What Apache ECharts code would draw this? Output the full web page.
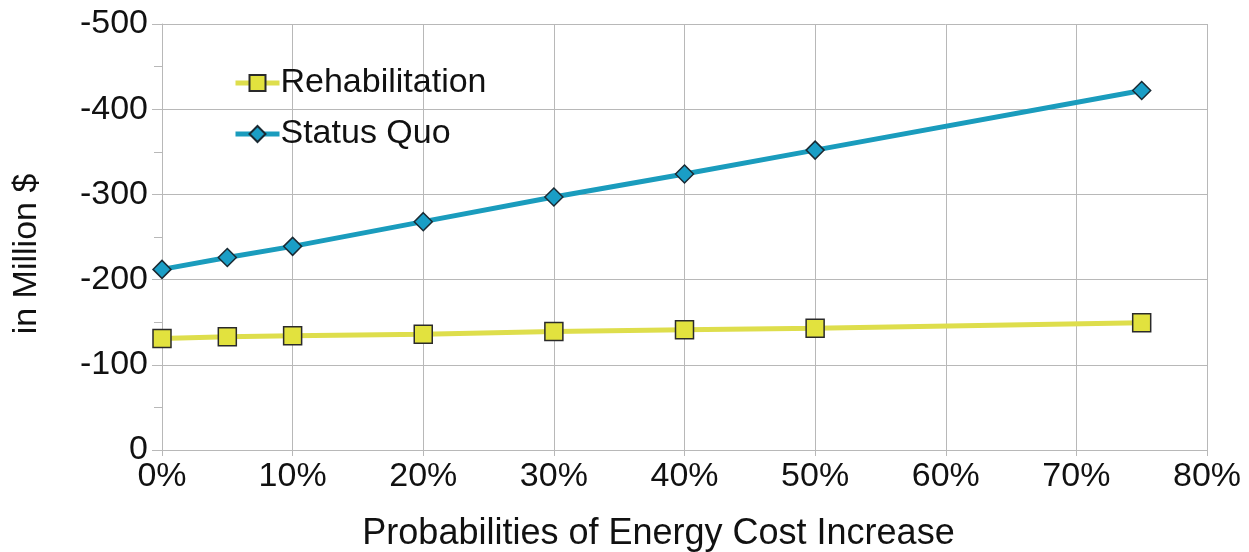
<!DOCTYPE html>
<html>
<head>
<meta charset="utf-8">
<script src="https://cdn.jsdelivr.net/npm/echarts@6/dist/echarts.min.js"></script>
<style>
html,body{margin:0;padding:0;background:#fff;}
#chart{width:1249px;height:552px;}
</style>
</head>
<body>
<div id="chart"></div>
<script>
const probabilities = [0, 5, 10, 20, 30, 40, 50, 75];
const rehabilitation = [-131, -133, -134, -136, -139, -141, -143, -149.5];
const statusQuo = [-212, -226, -239, -268, -297, -324, -352, -422];
const seriesNames = ['Rehabilitation', 'Status Quo'];
const xAxisTitle = 'Probabilities of Energy Cost Increase';
const yAxisTitle = 'in Million $';

const font = 'Liberation Sans, Arial, sans-serif';
const gridColor = '#b8b8b8';

const chart = echarts.init(document.getElementById('chart'), null, {renderer: 'canvas'});
chart.setOption({
  animation: false,
  backgroundColor: '#fff',
  textStyle: {fontFamily: font},
  grid: {left: 162, right: 42, top: 24, bottom: 102, containLabel: false, outerBoundsMode: 'none'},
  legend: {
    orient: 'vertical',
    left: 228,
    top: 61,
    itemGap: 17,
    itemWidth: 44,
    itemHeight: 20,
    lineStyle: {width: 5},
    textStyle: {fontFamily: font, fontSize: 34, color: '#111', padding: [0, 0, 0, -4]},
    data: seriesNames
  },
  xAxis: {
    type: 'value',
    min: 0, max: 80, interval: 10,
    name: xAxisTitle,
    nameLocation: 'middle',
    nameGap: 66,
    nameTextStyle: {fontFamily: font, fontSize: 36, color: '#111', padding: [0, 52, 0, 0]},
    axisLine: {show: true, lineStyle: {color: gridColor, width: 1}},
    axisTick: {show: true, length: 6, lineStyle: {color: gridColor}},
    axisLabel: {formatter: '{value}%', fontFamily: font, fontSize: 34, color: '#111', margin: 10},
    splitLine: {show: true, lineStyle: {color: gridColor, width: 1}}
  },
  yAxis: {
    type: 'value',
    inverse: true,
    min: -500, max: 0, interval: 100,
    name: yAxisTitle,
    nameLocation: 'middle',
    nameGap: 118,
    nameRotate: 90,
    nameTextStyle: {fontFamily: font, fontSize: 34, color: '#111', padding: [0, 34, 0, 0]},
    axisLine: {show: true, lineStyle: {color: gridColor, width: 1}},
    axisTick: {show: true, length: 10, lineStyle: {color: gridColor}},
    minorTick: {show: true, splitNumber: 2, length: 8, lineStyle: {color: gridColor}},
    axisLabel: {fontFamily: font, fontSize: 34, color: '#111', margin: 14},
    splitLine: {show: true, lineStyle: {color: gridColor, width: 1}}
  },
  series: [
    {
      name: seriesNames[0],
      type: 'line',
      data: probabilities.map((p, i) => [p, rehabilitation[i]]),
      symbol: 'rect',
      symbolSize: 18,
      lineStyle: {color: '#dede4c', width: 5},
      itemStyle: {color: '#e2e23e', borderColor: '#2a2a2a', borderWidth: 1.5},
      z: 3
    },
    {
      name: seriesNames[1],
      type: 'line',
      data: probabilities.map((p, i) => [p, statusQuo[i]]),
      symbol: 'diamond',
      symbolSize: 18,
      lineStyle: {color: '#1a9cbd', width: 5},
      itemStyle: {color: '#1a9ec6', borderColor: '#1a2a33', borderWidth: 1.5},
      z: 4
    }
  ]
});
</script>
</body>
</html>
